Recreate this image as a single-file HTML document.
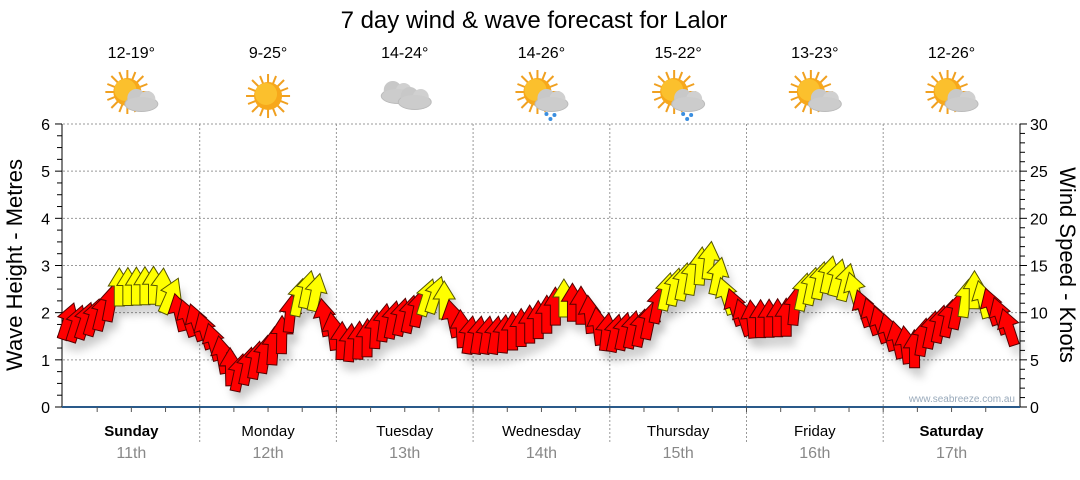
<!DOCTYPE html>
<html><head><meta charset="utf-8"><style>
body{margin:0;background:#fff;width:1080px;height:475px;overflow:hidden;font-family:"Liberation Sans",sans-serif}
</style></head><body>
<svg id="s" width="1080" height="475" xmlns="http://www.w3.org/2000/svg" font-family="Liberation Sans, sans-serif">
<defs>
<filter id="sh" x="-50%" y="-50%" width="200%" height="200%"><feGaussianBlur stdDeviation="4"/></filter>
<g id="sun"><g stroke="#f0a020" stroke-width="2">
<line x1="0" y1="-22" x2="0" y2="22"/><line x1="-22" y1="0" x2="22" y2="0"/>
<line x1="-16" y1="-16" x2="16" y2="16"/><line x1="-16" y1="16" x2="16" y2="-16"/>
<line x1="-8" y1="-20" x2="8" y2="20"/><line x1="-20" y1="-8" x2="20" y2="8"/>
<line x1="-8" y1="20" x2="8" y2="-20"/><line x1="-20" y1="8" x2="20" y2="-8"/></g>
<circle r="14" fill="#f7a81b"/><circle r="11" cx="-2" cy="-2" fill="#fbc02d"/></g>
<g id="cloud"><ellipse cx="0" cy="4" rx="17" ry="8" fill="#bbb"/><circle cx="-5" cy="-2" r="9" fill="#c8c8c8"/><circle cx="6" cy="-1" r="8" fill="#d0d0d0"/><ellipse cx="0" cy="4" rx="16" ry="7" fill="#ccc"/></g>
</defs>
<text x="534" y="28" font-size="24" text-anchor="middle" fill="#000">7 day wind &amp; wave forecast for Lalor</text>
<g id="g"></g>
</svg>
<script>
const S=document.getElementById('g');let h='';
const y0=407,pu=47.17;
for(let i=1;i<=6;i++){const y=y0-i*pu;h+=`<line x1="63" y1="${y}" x2="1020" y2="${y}" stroke="#999" stroke-dasharray="2,2"/>`;}
const dw=136.7;
for(let d=1;d<7;d++){const x=63+d*dw;h+=`<line x1="${x}" y1="124" x2="${x}" y2="${y0+35}" stroke="#999" stroke-dasharray="2,2"/>`;}
h+=`<line x1="62" y1="124" x2="62" y2="${y0}" stroke="#000"/>`;
for(let i=0;i<=24;i++){const y=y0-i*pu/4;h+=`<line x1="${i%4?57:55}" y1="${y}" x2="62" y2="${y}" stroke="#000"/>`;}
for(let i=0;i<=6;i++)h+=`<text x="50" y="${y0-i*pu+6}" font-size="16" text-anchor="end">${i}</text>`;
h+=`<line x1="1020" y1="124" x2="1020" y2="${y0}" stroke="#000"/>`;
for(let i=0;i<=30;i++){const y=y0-i*pu/5;h+=`<line x1="1020" y1="${y}" x2="${i%5?1025:1027}" y2="${y}" stroke="#000"/>`;}
for(let i=0;i<=30;i+=5)h+=`<text x="1030" y="${y0-i*pu/5+6}" font-size="16">${i}</text>`;
h+=`<text transform="translate(22,265) rotate(-90)" font-size="22" text-anchor="middle">Wave Height - Metres</text>`;
h+=`<text transform="translate(1060,265) rotate(90)" font-size="22" text-anchor="middle">Wind Speed - Knots</text>`;
h+=`<line x1="62" y1="${y0}" x2="1020" y2="${y0}" stroke="#2a5a8a" stroke-width="2"/>`;
for(let i=1;i<28;i++){const x=63+i*dw/4;h+=`<line x1="${x}" y1="${y0}" x2="${x}" y2="${y0+5}" stroke="#555"/>`;}
const days=["Sunday","Monday","Tuesday","Wednesday","Thursday","Friday","Saturday"];
const dates=["11th","12th","13th","14th","15th","16th","17th"];
const temps=["12-19°","9-25°","14-24°","14-26°","15-22°","13-23°","12-26°"];
const icons=["sc","s","c","r","r","sc","sc"];
for(let d=0;d<7;d++){const cx=63+dw*(d+.5);
h+=`<text x="${cx}" y="436" font-size="15" text-anchor="middle" ${d==0||d==6?'font-weight="bold"':''}>${days[d]}</text>`;
h+=`<text x="${cx}" y="458" font-size="16" text-anchor="middle" fill="#888">${dates[d]}</text>`;
h+=`<text x="${cx}" y="58" font-size="16" text-anchor="middle">${temps[d]}</text>`;
const ic=icons[d];
if(ic=="s")h+=`<use href="#sun" x="${cx}" y="96"/>`;
else if(ic=="c")h+=`<use href="#cloud" x="${cx-7}" y="92"/><use href="#cloud" x="${cx+10}" y="98"/>`;
else{h+=`<use href="#sun" x="${cx-4}" y="92"/><use href="#cloud" x="${cx+10}" y="100"/>`;
if(ic=="r")h+=`<circle cx="${cx+5}" cy="114" r="2" fill="#3a8ee0"/><circle cx="${cx+13}" cy="115" r="2" fill="#3a8ee0"/><circle cx="${cx+9}" cy="119" r="2" fill="#3a8ee0"/>`;}
}
h+=`<text x="1015" y="402" font-size="10" text-anchor="end" fill="#9ab">www.seabreeze.com.au</text>`;
const K=[[63,300,30],[75,305,30],[90,300,30],[100,295,25],[110,285,20],[118,268,0],[160,266,0],[172,278,45],[180,295,-30],[200,305,-30],[215,325,-25],[228,345,-10],[237,355,20],[250,345,20],[265,335,15],[280,320,0],[290,295,10],[297,280,20],[310,268,20],[318,275,20],[325,300,-20],[335,315,-10],[345,325,10],[370,318,0],[380,305,10],[395,300,20],[410,295,20],[420,288,20],[428,277,30],[440,275,30],[447,285,-20],[455,305,-20],[470,316,15],[500,316,15],[510,313,0],[530,305,0],[545,297,0],[565,278,0],[575,285,0],[585,287,0],[595,305,-20],[610,315,20],[645,308,20],[655,293,20],[662,275,20],[680,265,20],[695,255,15],[707,238,0],[715,250,40],[725,275,-30],[735,288,-30],[745,300,-30],[755,300,0],[790,298,0],[800,275,20],[815,265,20],[830,255,20],[845,262,30],[855,272,-30],[862,288,-30],[880,305,-30],[900,323,-20],[915,330,0],[925,315,20],[940,305,20],[955,295,20],[962,283,20],[975,270,0],[985,283,-30],[995,290,-30],[1010,310,-30],[1020,320,-30]];
function interp(x){for(let i=0;i<K.length-1;i++){if(x>=K[i][0]&&x<=K[i+1][0]){const t=(x-K[i][0])/(K[i+1][0]-K[i][0]);return[K[i][1]+t*(K[i+1][1]-K[i][1]),K[i][2]+t*(K[i+1][2]-K[i][2])];}}return[K[K.length-1][1],K[K.length-1][2]];}
const P="0,-19 11,-1 5,-1 5,19 -5,19 -5,-1 -11,-1";
let sh='',ar='';
for(let x=68;x<=1016;x+=8.55){let[t,a]=interp(x);a*=0.6;const cy=t+19;const col=t<=283?'#ffff00':'#ff0000';const st=t<=283?'#555500':'#550000';
sh+=`<polygon points="${P}" transform="translate(${x+5},${cy+10}) rotate(${a})" fill="#000" opacity="0.15"/>`;
ar+=`<polygon points="${P}" transform="translate(${x},${cy}) rotate(${a})" fill="${col}" stroke="${st}" stroke-width="1"/>`;}
h+=`<g filter="url(#sh)">${sh}</g>`+ar;
S.innerHTML=h;
</script>
</body></html>
